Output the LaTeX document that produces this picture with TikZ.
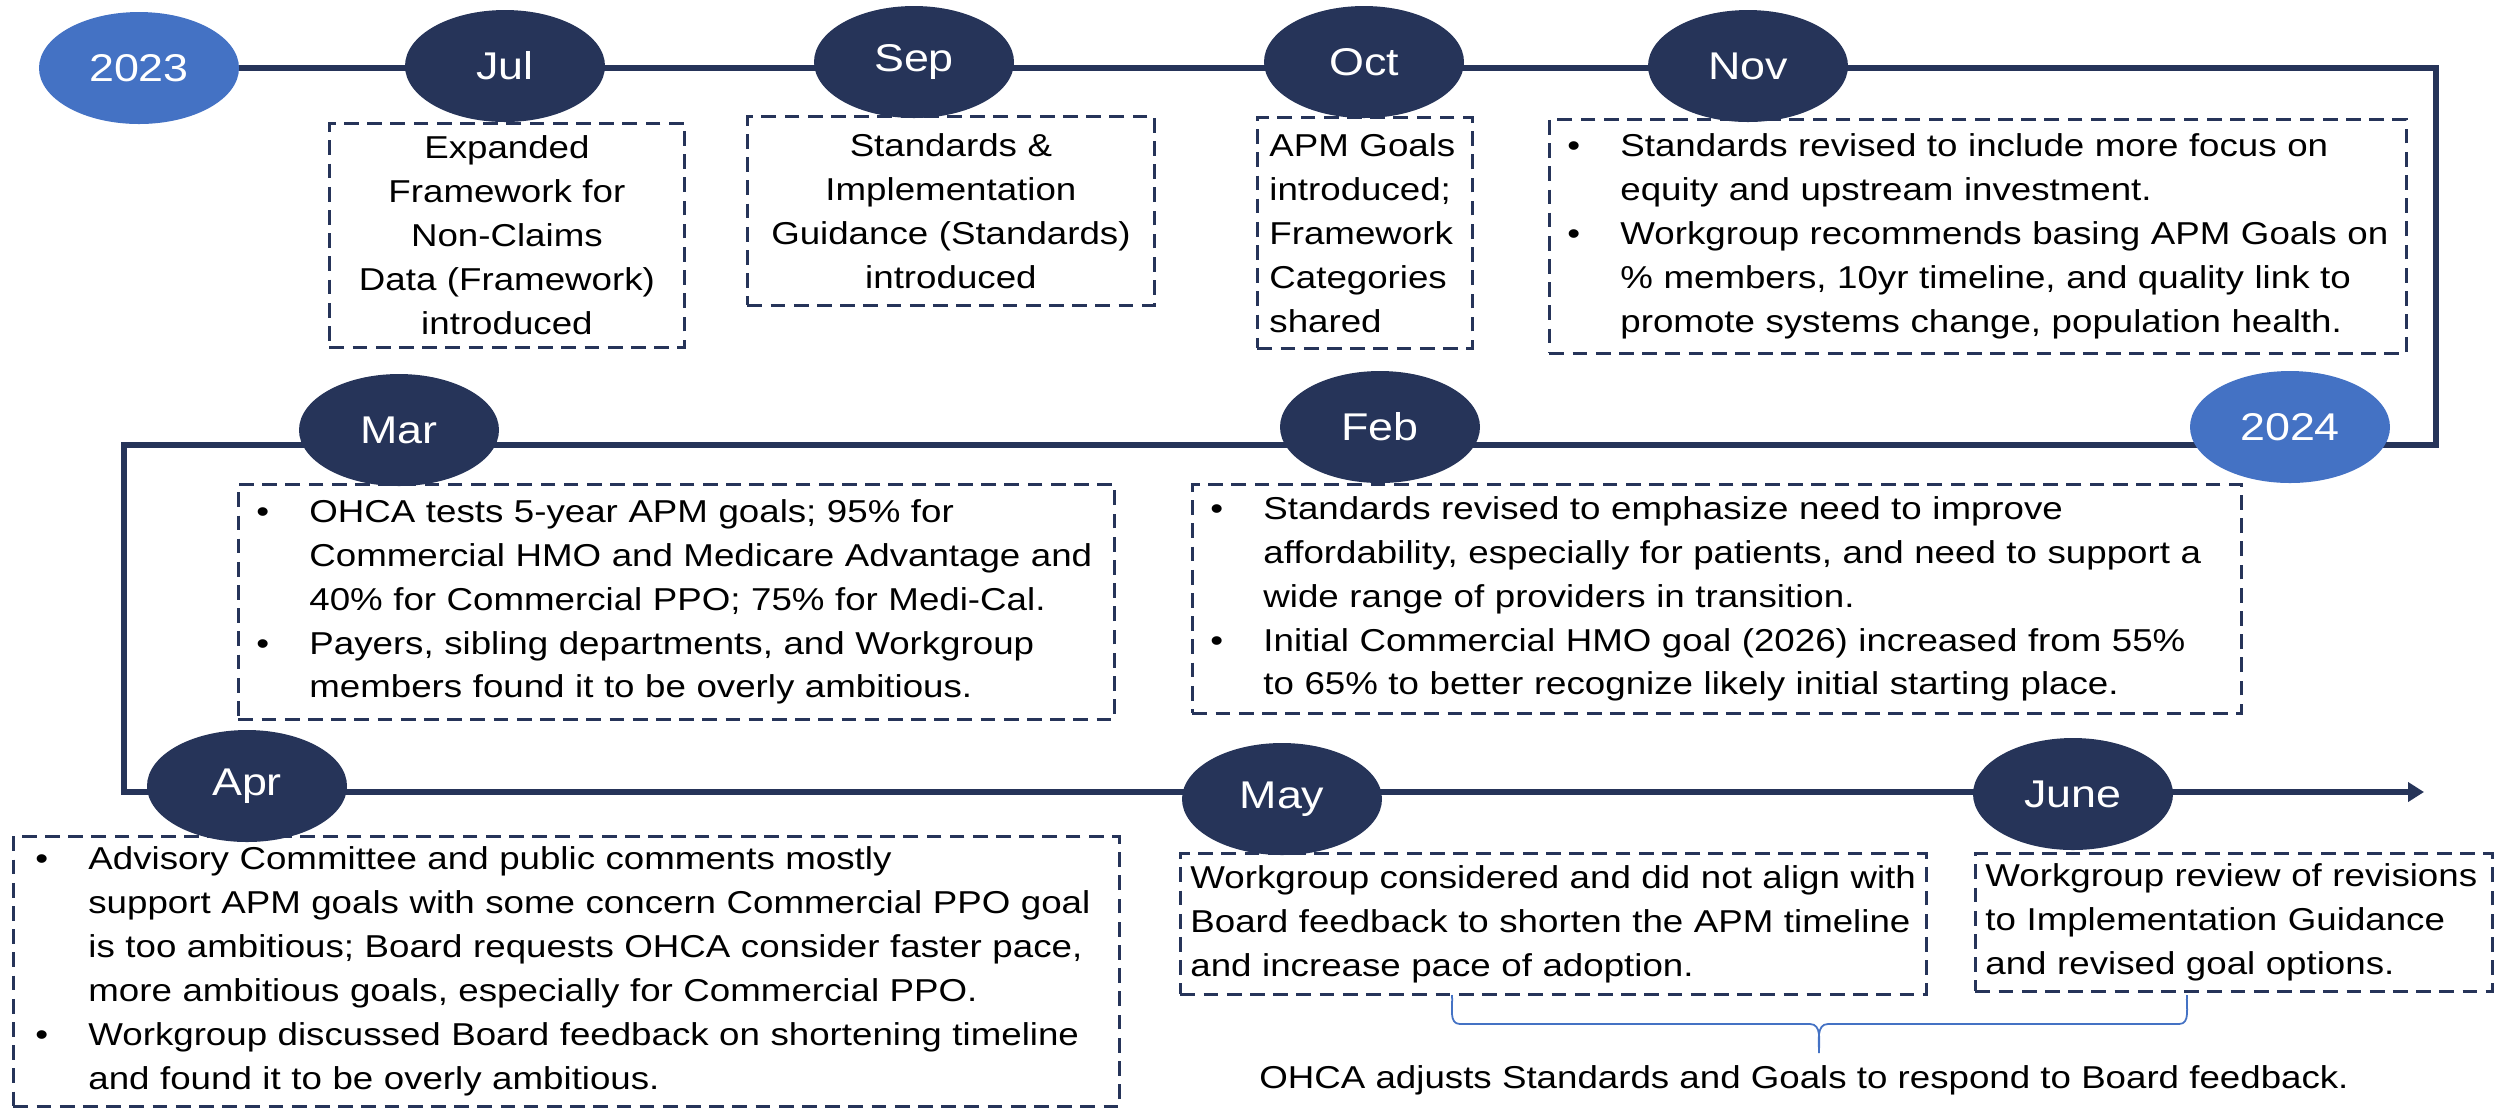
\documentclass[tikz,border=0pt]{standalone}
\usepackage{fontspec}
\setmainfont{Liberation Sans}[FakeStretch=1.16]
\usepackage{tikz}
\usetikzlibrary{shapes.geometric,arrows.meta,backgrounds}

\definecolor{navy}{HTML}{263459}
\definecolor{yearblue}{HTML}{4472C4}

% bullet and hanging indent for the note boxes
\newcommand{\bul}{\makebox[0.53cm][l]{\textbullet}}
\newcommand{\ind}{\hspace*{0.53cm}}

\begin{document}
\begin{tikzpicture}
	[monthnode/.style={ellipse,fill=navy,text=white,minimum width=2cm,minimum height=1.12cm,inner sep=0pt,font=\fontsize{11}{13}\selectfont},
	 yearnode/.style={monthnode,fill=yearblue},
	 note/.style={draw=navy,line width=0.8pt,dash pattern=on 4.2pt off 2.4pt,anchor=north west,inner xsep=0.1cm,inner ysep=0.05cm},
	 bullets/.style={note,align=left,inner xsep=0.18cm},
	 timeline/.style={draw=navy,line width=1.7pt},
	 bracepath/.style={draw=yearblue,line width=0.5pt},
	 font=\fontsize{9}{12.5}\selectfont]
\useasboundingbox (0,0) rectangle (24.96,-11.10);

% 2023 notes
\node[note,align=center,text width=3.35cm,minimum height=2.24cm] (bJul) at (3.28,-1.22)
	{Expanded\\Framework for\\Non-Claims\\Data (Framework)\\introduced};
\node[note,align=center,text width=3.87cm,minimum height=1.89cm] (bSep) at (7.46,-1.15)
	{Standards \&\\Implementation\\Guidance (Standards)\\introduced};
\node[note,align=left,inner xsep=0.12cm,text width=1.91cm,minimum height=2.31cm] (bOct) at (12.56,-1.16)
	{APM Goals\\introduced;\\Framework\\Categories\\shared};
\node[bullets,text width=8.21cm,minimum height=2.34cm] (bNov) at (15.48,-1.18)
	{\bul Standards revised to include more focus on\\
	 \ind equity and upstream investment.\\
	 \bul Workgroup recommends basing APM Goals on\\
	 \ind \% members, 10yr timeline, and quality link to\\
	 \ind promote systems change, population health.};

% 2024 notes
\node[bullets,text width=8.40cm,minimum height=2.35cm] (bMar) at (2.37,-4.83)
	{\bul OHCA tests 5-year APM goals; 95\% for\\
	 \ind Commercial HMO and Medicare Advantage and\\
	 \ind 40\% for Commercial PPO; 75\% for Medi-Cal.\\
	 \bul Payers, sibling departments, and Workgroup\\
	 \ind members found it to be overly ambitious.};
\node[bullets,text width=10.13cm,minimum height=2.29cm] (bFeb) at (11.91,-4.83)
	{\bul Standards revised to emphasize need to improve\\
	 \ind affordability, especially for patients, and need to support a\\
	 \ind wide range of providers in transition.\\
	 \bul Initial Commercial HMO goal (2026) increased from 55\%\\
	 \ind to 65\% to better recognize likely initial starting place.};
\node[bullets,inner xsep=0.22cm,text width=10.62cm,minimum height=2.70cm] (bApr) at (0.12,-8.35)
	{\bul Advisory Committee and public comments mostly\\
	 \ind support APM goals with some concern Commercial PPO goal\\
	 \ind is too ambitious; Board requests OHCA consider faster pace,\\
	 \ind more ambitious goals, especially for Commercial PPO.\\
	 \bul Workgroup discussed Board feedback on shortening timeline\\
	 \ind and found it to be overly ambitious.};
\node[note,align=left,text width=7.26cm,minimum height=1.41cm] (bMay) at (11.79,-8.52)
	{Workgroup considered and did not align with\\
	 Board feedback to shorten the APM timeline\\
	 and increase pace of adoption.};
\node[note,align=left,text width=4.97cm,minimum height=1.38cm] (bJun) at (19.74,-8.52)
	{Workgroup review of revisions\\
	 to Implementation Guidance\\
	 and revised goal options.};

% milestones
\node[yearnode] (y2023) at (1.39,-0.68) {2023};
\node[yearnode] (y2024) at (22.90,-4.27) {2024};
\foreach \n/\x/\y/\t in {mJul/5.05/-0.66/Jul, mSep/9.14/-0.62/Sep, mOct/13.64/-0.62/Oct,
	mNov/17.48/-0.66/Nov, mMar/3.99/-4.30/Mar, mFeb/13.80/-4.27/Feb,
	mApr/2.47/-7.86/Apr, mMay/12.82/-7.99/May, mJun/20.73/-7.94/June}
	\node[monthnode] (\n) at (\x,\y) {\t};

% the snake line behind the milestones
\begin{scope}[on background layer]
\coordinate (t1) at (24.36,-0.68);
\coordinate (t2) at (24.36,-4.45);
\coordinate (t3) at (1.24,-4.45);
\coordinate (t4) at (1.24,-7.92);
\coordinate (tEnd) at (24.24,-7.92);
\draw[timeline,-{Triangle[length=0.16cm,width=0.19cm]}] (y2023.center) -- (t1) -- (t2) -- (t3) -- (t4) -- (tEnd);
\end{scope}

% brace under May/June
\draw[bracepath] (14.52,-9.95) to[out=-85,in=180] (14.60,-10.24) -- (18.10,-10.24)
	to[out=0,in=90] (18.19,-10.53) to[out=90,in=180] (18.28,-10.24) -- (21.79,-10.24)
	to[out=0,in=-95] (21.87,-9.95);
\node (cap) at (18.04,-10.80) {OHCA adjusts Standards and Goals to respond to Board feedback.};
\end{tikzpicture}
\end{document}
